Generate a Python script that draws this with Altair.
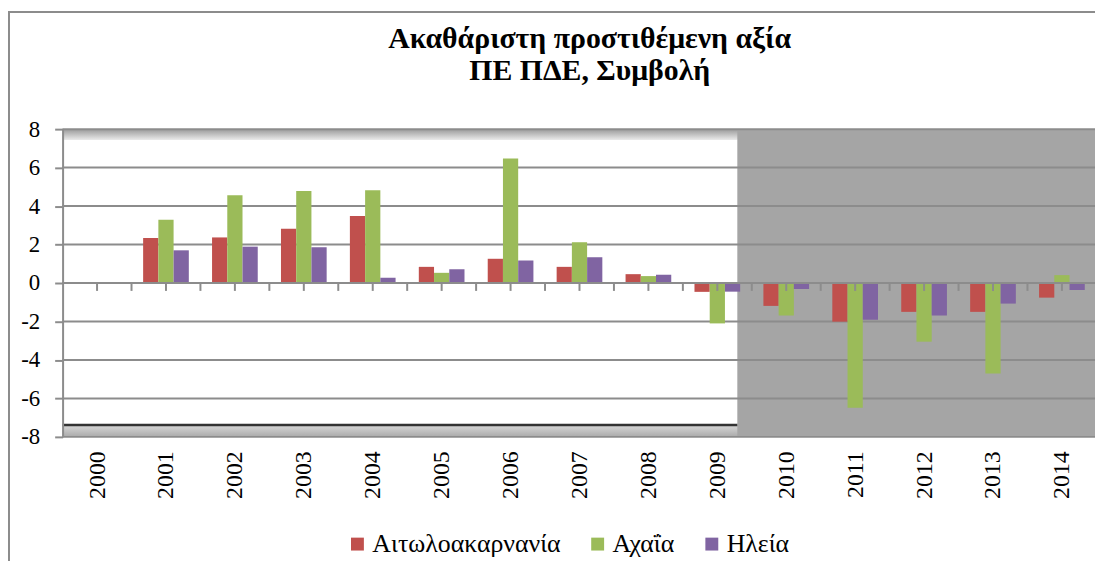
import altair as alt
import pandas as pd

# ---- data ----
years = ["2000", "2001", "2002", "2003", "2004", "2005", "2006", "2007",
         "2008", "2009", "2010", "2011", "2012", "2013", "2014"]
series = ["Αιτωλοακαρνανία", "Αχαΐα", "Ηλεία"]
aitoloakarnania = [0, 2.34, 2.37, 2.82, 3.48, 0.84, 1.26, 0.84, 0.46, -0.46,
                   -1.19, -2.01, -1.50, -1.50, -0.76]
achaia = [0, 3.29, 4.56, 4.78, 4.82, 0.53, 6.47, 2.12, 0.36, -2.10,
          -1.69, -6.49, -3.05, -4.71, 0.41]
ileia = [0, 1.70, 1.89, 1.86, 0.28, 0.72, 1.17, 1.34, 0.43, -0.45,
         -0.31, -1.91, -1.69, -1.07, -0.36]
colors = ["#C0504D", "#9BBB59", "#8064A2"]
y_ticks = [-8, -6, -4, -2, 0, 2, 4, 6, 8]
# white (earlier period) panel, in category-index units and value units
white_x = [-0.5, 9.29]
white_y = [-7.38, 7.48]
x_domain = [-0.5, 14.48]
y_domain = [-8, 8]

# ---- tables ----
rows = []
for k, vals in enumerate([aitoloakarnania, achaia, ileia]):
    for i, v in enumerate(vals):
        rows.append({"idx": i, "k": k, "series": series[k], "value": v})
bars_df = pd.DataFrame(rows)

n = len(years)
tick_pos = [i * 0.5 for i in range(2 * n - 1)]
ticks_df = pd.DataFrame({"pos": tick_pos})
grid_df = pd.DataFrame({"gy": y_ticks})
white_df = pd.DataFrame({"x0": [white_x[0]], "x1": [white_x[1]],
                         "y0": [white_y[0]], "y1": [white_y[1]],
                         "top": [y_domain[1]], "bot": [y_domain[0]]})
bg_df = pd.DataFrame({"x0": [x_domain[0]], "x1": [x_domain[1]],
                      "y0": [y_domain[0]], "y1": [y_domain[1]]})
one_df = pd.DataFrame({"a": [0]})

BW = 0.221
FONT = '"Liberation Serif", "Times New Roman", "DejaVu Serif", serif'
GRID = "#8c8c8c"

xs = alt.Scale(domain=x_domain, nice=False, zero=False)
ys = alt.Scale(domain=y_domain, nice=False, zero=False)

label_js = "[" + ",".join("'%s'" % y for y in years) + "][datum.value]"
x_axis = alt.Axis(values=list(range(n)), labelExpr=label_js, labelAngle=270,
                  labelFont=FONT, labelFontSize=24, labelColor="black",
                  labelPadding=14, ticks=False, domain=False, grid=False,
                  title=None, labelOverlap=False, labelFlush=False)
y_axis = alt.Axis(values=y_ticks, labelExpr="datum.value + ''",
                  labelFont=FONT, labelFontSize=23, labelColor="black",
                  labelPadding=15, tickSize=8, tickColor=GRID, tickWidth=2,
                  domainColor=GRID, domainWidth=2, grid=False, title=None,
                  zindex=1, labelFlush=False)

frame = alt.Chart(one_df).mark_rect(filled=False, stroke="#8c8c8c", strokeWidth=2).encode(
    x=alt.value(-54), x2=alt.value(1100), y=alt.value(-118), y2=alt.value(700))

bg = alt.Chart(bg_df).mark_rect(color="#A5A5A5").encode(
    x=alt.X("x0:Q", scale=xs, axis=x_axis), x2="x1:Q",
    y=alt.Y("y0:Q", scale=ys, axis=y_axis), y2="y1:Q")

white = alt.Chart(white_df).mark_rect(color="white").encode(
    x=alt.X("x0:Q", scale=xs, axis=x_axis), x2="x1:Q",
    y=alt.Y("y0:Q", scale=ys, axis=y_axis), y2="y1:Q")

top_band = alt.Chart(white_df).mark_rect(
    color=alt.Gradient(gradient="linear",
                       stops=[alt.GradientStop(color="#9a9a9a", offset=0),
                              alt.GradientStop(color="#e4e4e4", offset=1)],
                       x1=0, x2=0, y1=0, y2=1)).encode(
    x=alt.X("x0:Q", scale=xs, axis=x_axis), x2="x1:Q",
    y=alt.Y("y1:Q", scale=ys, axis=y_axis), y2="top:Q")

bot_band = alt.Chart(white_df).mark_rect(
    color=alt.Gradient(gradient="linear",
                       stops=[alt.GradientStop(color="#d8d8d8", offset=0),
                              alt.GradientStop(color="#aaaaaa", offset=1)],
                       x1=0, x2=0, y1=0, y2=1)).encode(
    x=alt.X("x0:Q", scale=xs, axis=x_axis), x2="x1:Q",
    y=alt.Y("y0:Q", scale=ys, axis=y_axis), y2="bot:Q")

dark_line = alt.Chart(white_df).mark_rule(color="#333333", strokeWidth=2.5).encode(
    x=alt.X("x0:Q", scale=xs, axis=x_axis), x2="x1:Q",
    y=alt.Y("y0:Q", scale=ys, axis=y_axis))

grid = alt.Chart(grid_df).mark_rule(color=GRID, strokeWidth=2).encode(
    y=alt.Y("gy:Q", scale=ys, axis=y_axis))

bars = alt.Chart(bars_df).transform_calculate(
    x0="datum.idx + (datum.k - 1.5) * %f" % BW,
    x1="datum.idx + (datum.k - 0.5) * %f" % BW,
).mark_rect().encode(
    x=alt.X("x0:Q", scale=xs, axis=x_axis), x2="x1:Q",
    y=alt.Y("value:Q", scale=ys, axis=y_axis), y2=alt.datum(0),
    color=alt.Color("series:N", scale=alt.Scale(domain=series, range=colors),
                    legend=alt.Legend(orient="none", legendX=284, legendY=405,
                                      direction="horizontal", title=None,
                                      labelFont=FONT, labelFontSize=26,
                                      labelColor="black", symbolType="square",
                                      symbolSize=169, symbolStrokeWidth=0,
                                      columnPadding=24, labelOffset=2,
                                      labelLimit=0, padding=0)))

zero_line = alt.Chart(one_df).mark_rule(color=GRID, strokeWidth=2).encode(
    y=alt.YDatum(0, scale=ys, axis=y_axis))

ticks = alt.Chart(ticks_df).mark_rule(color=GRID, strokeWidth=2).encode(
    x=alt.X("pos:Q", scale=xs, axis=x_axis),
    y=alt.YDatum(0, scale=ys, axis=y_axis), y2=alt.datum(-0.41))

chart = alt.layer(frame, bg, white, top_band, bot_band, dark_line, grid, bars,
                  zero_line, ticks).properties(
    width=1040, height=310,
    padding={"left": 55, "top": 120, "right": 0, "bottom": 123},
    autosize=alt.AutoSizeParams(type="none"),
    background="white",
    title=alt.Title(["Ακαθάριστη προστιθέμενη αξία", "ΠΕ ΠΔΕ, Συμβολή"],
                    font=FONT, fontSize=30, fontWeight="bold", color="black",
                    anchor="middle", frame="group", offset=-75, dx=11,
                    lineHeight=32),
).configure_view(stroke=None)

chart.save("out.html", embed_options={"renderer": "svg", "actions": False})
